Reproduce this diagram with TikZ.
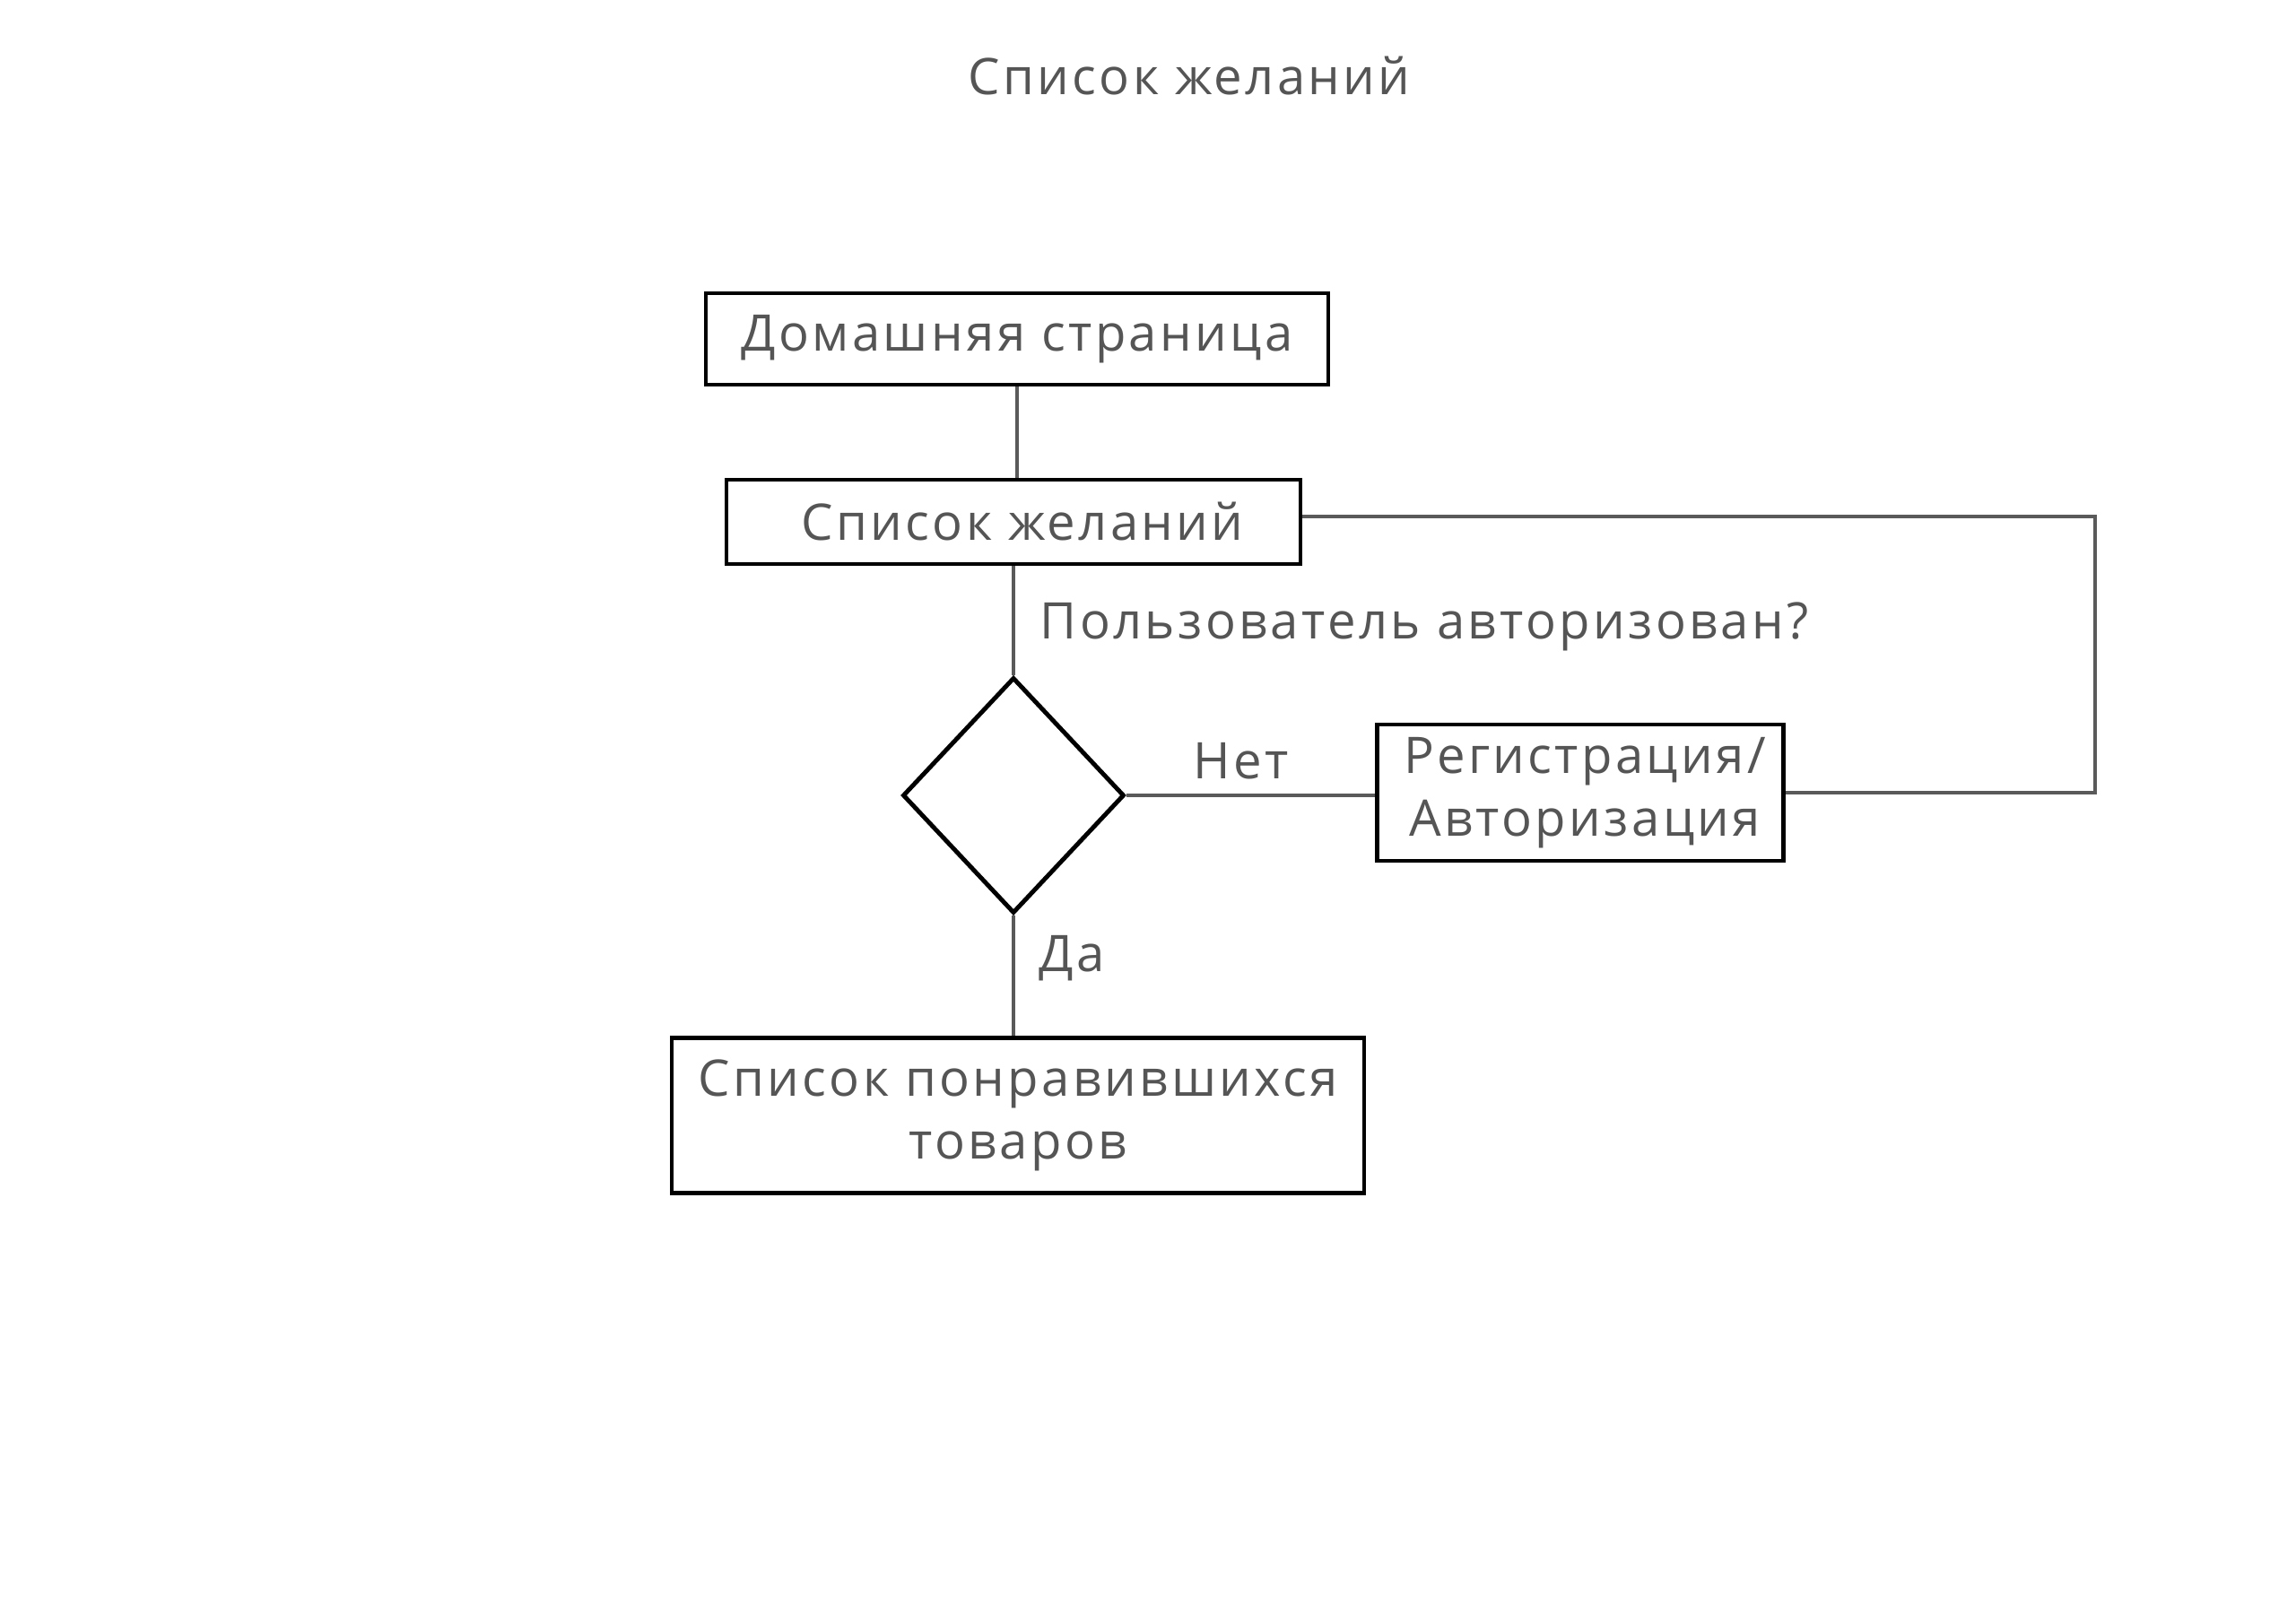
\documentclass[tikz,border=0pt]{standalone}
\usepackage{fontspec}
\setmainfont{Open Sans}[LetterSpace=6]
\usepackage{xcolor}
\usetikzlibrary{shapes.geometric}
\definecolor{txtgray}{HTML}{555555}
\definecolor{linegray}{HTML}{5A5A5A}

\begin{document}
\begin{tikzpicture}[
  font=\fontsize{16pt}{20pt}\selectfont,
  text=txtgray,
  box/.style={draw=black, line width=1.2pt, rectangle, align=center, inner sep=0pt},
  decision/.style={draw=black, line width=1.4pt, diamond, inner sep=0pt,
    minimum width=2.47cm, minimum height=2.63cm},
  link/.style={draw=linegray, line width=0.9pt},
  lbl/.style={inner sep=0pt}
]
\useasboundingbox (0,0) rectangle (25.6,-18.1);

\node [lbl] (title) at (13.26,-0.85) {Список желаний};

\node [box, minimum width=6.94cm, minimum height=1.02cm] (home) at (11.34,-3.78) {Домашняя страница};
\node [box, minimum width=6.40cm, minimum height=0.94cm] (wish) at (11.30,-5.82) {\hspace*{0.2cm}Список желаний};
\node [lbl, anchor=west] (ask) at (11.59,-6.99) {Пользователь авторизован?};
\node [decision] (check) at (11.30,-8.87) {};
\node [box, minimum width=4.53cm, minimum height=1.52cm] (auth) at (17.62,-8.84) {\hspace*{0.1cm}Регистрация/\\\hspace*{0.1cm}Авторизация};
\node [lbl] (no) at (13.84,-8.49) {Нет};
\node [lbl, anchor=west] (yes) at (11.58,-10.69) {Да};
\node [box, minimum width=7.72cm, minimum height=1.73cm] (liked) at (11.35,-12.44) {Список понравившихся\\товаров};

\coordinate (back) at (23.36,-5.76);

\draw [link] (home.south) -- (home.south |- wish.north);
\draw [link] (wish.south) -- (check.north);
\draw [link] (check.east) -- (check.east -| auth.west);
\draw [link] (auth.east) -| (back) -- (back -| wish.east);
\draw [link] (check.south) -- (check.south |- liked.north);
\end{tikzpicture}
\end{document}
